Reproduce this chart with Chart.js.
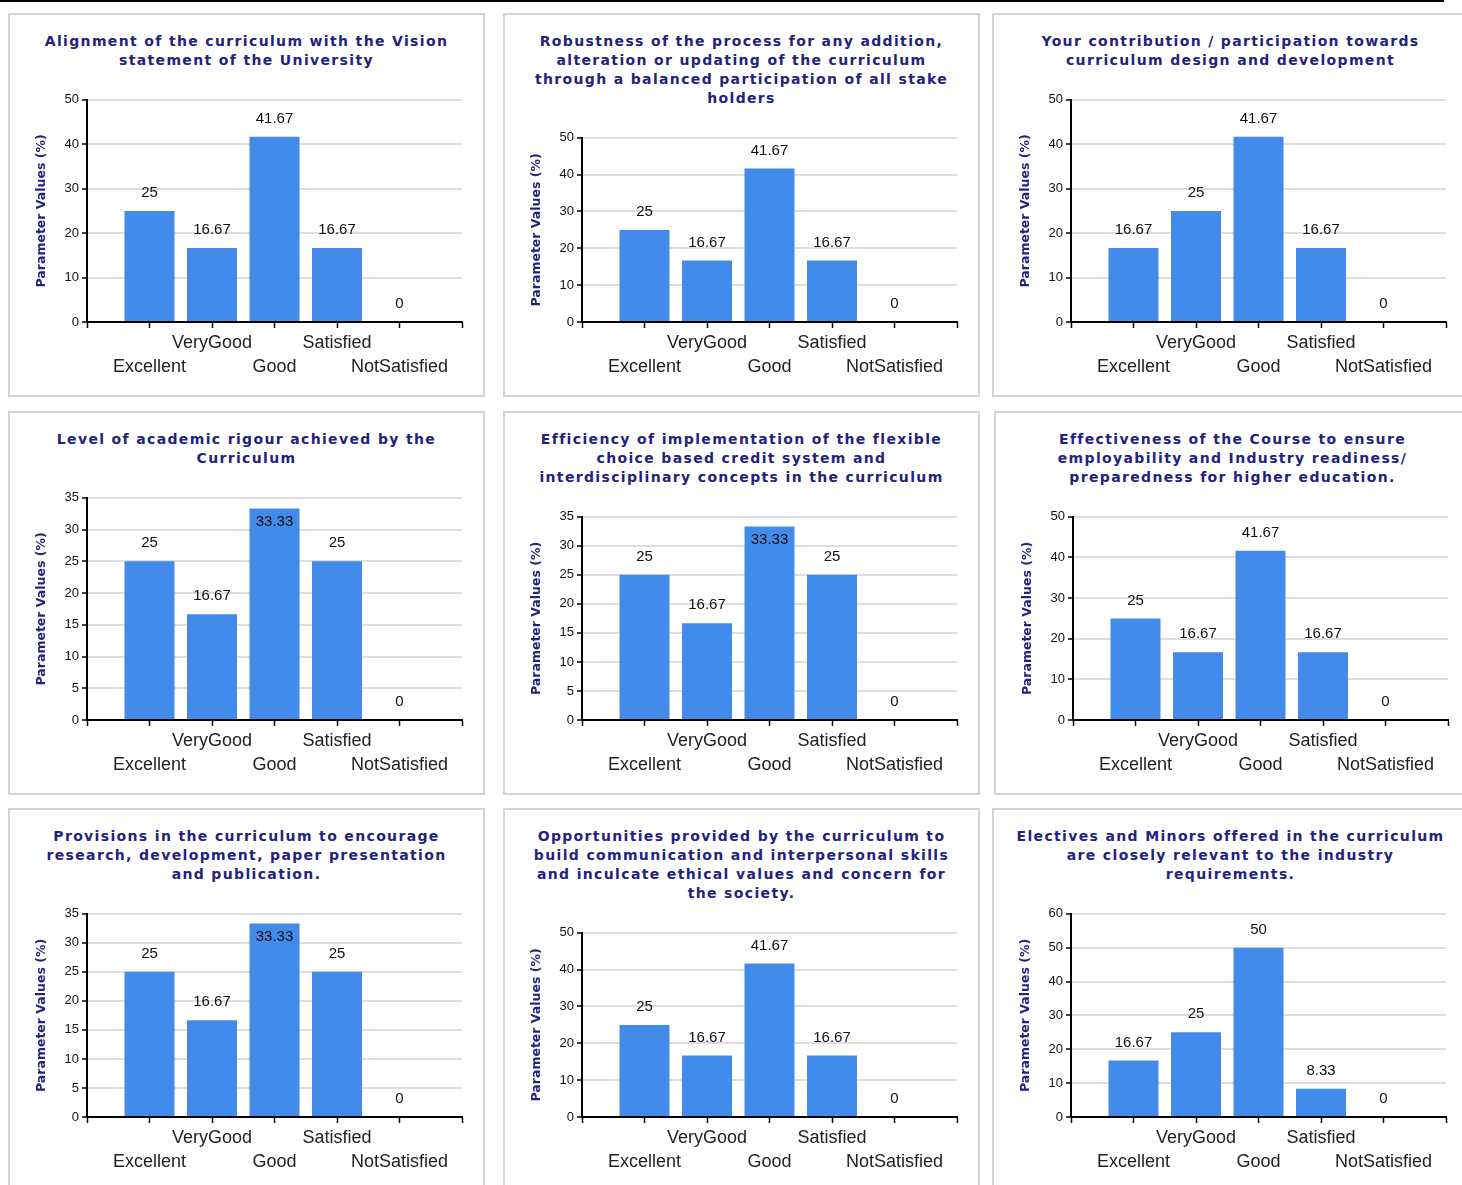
<!DOCTYPE html>
<html><head><meta charset="utf-8">
<script src="https://cdn.jsdelivr.net/npm/chart.js@4.4.1/dist/chart.umd.min.js"></script>
<style>
html,body{margin:0;padding:0;background:#fff;overflow:hidden;width:1462px;height:1185px;position:relative;}
#topline{position:absolute;left:0;top:0;width:1444px;height:2px;background:#000;}
.panel{position:absolute;width:473px;height:380px;border:2px solid #d4d4d4;background:#fff;display:flex;flex-direction:column;}
.ttl{padding-top:16.5px;margin-bottom:19.5px;text-align:center;font-family:"DejaVu Sans",sans-serif;font-weight:bold;font-size:14px;letter-spacing:1.35px;line-height:19px;color:#23237d;white-space:nowrap;}
.cw{position:relative;flex:1;min-height:0;}
</style></head><body>
<div id="topline"></div>
<script>
const categories = ['Excellent', 'VeryGood', 'Good', 'Satisfied', 'NotSatisfied'];

const chartTitles = [
  ['Alignment of the curriculum with the Vision', 'statement of the University'],
  ['Robustness of the process for any addition,', 'alteration or updating of the curriculum', 'through a balanced participation of all stake', 'holders'],
  ['Your contribution / participation towards', 'curriculum design and development'],
  ['Level of academic rigour achieved by the', 'Curriculum'],
  ['Efficiency of implementation of the flexible', 'choice based credit system and', 'interdisciplinary concepts in the curriculum'],
  ['Effectiveness of the Course to ensure', 'employability and Industry readiness/', 'preparedness for higher education.'],
  ['Provisions in the curriculum to encourage', 'research, development, paper presentation', 'and publication.'],
  ['Opportunities provided by the curriculum to', 'build communication and interpersonal skills', 'and inculcate ethical values and concern for', 'the society.'],
  ['Electives and Minors offered in the curriculum', 'are closely relevant to the industry', 'requirements.']
];

const alignmentValues      = [25, 16.67, 41.67, 16.67, 0];
const robustnessValues     = [25, 16.67, 41.67, 16.67, 0];
const contributionValues   = [16.67, 25, 41.67, 16.67, 0];
const rigourValues         = [25, 16.67, 33.33, 25, 0];
const cbcsValues           = [25, 16.67, 33.33, 25, 0];
const employabilityValues  = [25, 16.67, 41.67, 16.67, 0];
const researchValues       = [25, 16.67, 33.33, 25, 0];
const skillsValues         = [25, 16.67, 41.67, 16.67, 0];
const electivesValues      = [16.67, 25, 50, 8.33, 0];

const yAxisMax  = [50, 50, 50, 35, 35, 50, 35, 50, 60];
const yAxisStep = [10, 10, 10, 5, 5, 10, 5, 10, 10];
const yAxisTitle = 'Parameter Values (%)';

const allValues = [alignmentValues, robustnessValues, contributionValues, rigourValues, cbcsValues,
                   employabilityValues, researchValues, skillsValues, electivesValues];

const panelLefts = [8, 503, 992, 8, 503, 994, 8, 503, 992];
const panelTops = [13, 13, 13, 411, 411, 411, 808, 808, 808];

const valueLabelPlugin = {
  id: 'valueLabels',
  afterDatasetsDraw(chart) {
    const ctx = chart.ctx;
    const meta = chart.getDatasetMeta(0);
    const ds = chart.data.datasets[0];
    ctx.save();
    ctx.font = '15px "Liberation Sans", Arial, sans-serif';
    ctx.fillStyle = '#111';
    ctx.textAlign = 'center';
    ctx.textBaseline = 'middle';
    meta.data.forEach((bar, i) => {
      const v = ds.data[i].y;
      let y = bar.y - 18;
      if (y - 6 < chart.chartArea.top) y = bar.y + 13;
      ctx.fillText(String(v), bar.x, y);
    });
    ctx.restore();
  }
};

allValues.forEach((vals, k) => {
  const panel = document.createElement('div');
  panel.className = 'panel';
  panel.style.left = panelLefts[k] + 'px';
  panel.style.top = panelTops[k] + 'px';
  const t = document.createElement('div');
  t.className = 'ttl';
  chartTitles[k].forEach((line, j) => {
    if (j > 0) t.appendChild(document.createElement('br'));
    t.appendChild(document.createTextNode(line));
  });
  panel.appendChild(t);
  const cw = document.createElement('div');
  cw.className = 'cw';
  const cv = document.createElement('canvas');
  cw.appendChild(cv);
  panel.appendChild(cw);
  document.body.appendChild(panel);

  new Chart(cv, {
    type: 'bar',
    data: {
      datasets: [{
        data: categories.map((c, i) => ({ x: i + 1, y: vals[i] })),
        backgroundColor: '#428bea',
        borderWidth: 0,
        categoryPercentage: 1,
        barPercentage: 0.8
      }]
    },
    options: {
      responsive: true,
      maintainAspectRatio: false,
      animation: false,
      layout: { padding: { top: 10, right: 21, left: 0, bottom: 0 } },
      plugins: { legend: { display: false }, tooltip: { enabled: false } },
      scales: {
        x: {
          type: 'linear',
          min: 0,
          max: categories.length + 1,
          offset: false,
          ticks: {
            stepSize: 1, autoSkip: false, maxRotation: 0, minRotation: 0, padding: 3,
            color: '#222',
            font: { family: '"Liberation Sans", Arial, sans-serif', size: 18, lineHeight: 1.3333 },
            callback: (v) => {
              const i = Math.round(v) - 1;
              if (i < 0 || i >= categories.length) return '';
              return i % 2 === 0 ? ['', categories[i]] : categories[i];
            }
          },
          grid: { display: true, offset: false, drawOnChartArea: false, drawTicks: true, tickLength: 6, tickColor: '#000', tickWidth: 1.5 },
          border: { display: true, color: '#000', width: 2 },
          afterFit: (s) => { s.height = 73; }
        },
        y: {
          min: 0,
          max: yAxisMax[k],
          ticks: {
            stepSize: yAxisStep[k], padding: 3, color: '#111',
            font: { family: '"Liberation Sans", Arial, sans-serif', size: 13 }
          },
          grid: { color: '#dedede', lineWidth: 2, tickColor: '#000', tickLength: 5, tickWidth: 1.5 },
          border: { color: '#000', width: 2 },
          title: {
            display: true, text: yAxisTitle, color: '#23237d',
            font: { family: '"DejaVu Sans", sans-serif', weight: 'bold', size: 12.5, lineHeight: 1.2 },
            padding: { top: 24, bottom: 0 }
          },
          afterFit: (s) => { s.width = 77; }
        }
      }
    },
    plugins: [valueLabelPlugin]
  });
});
</script>
</body></html>
